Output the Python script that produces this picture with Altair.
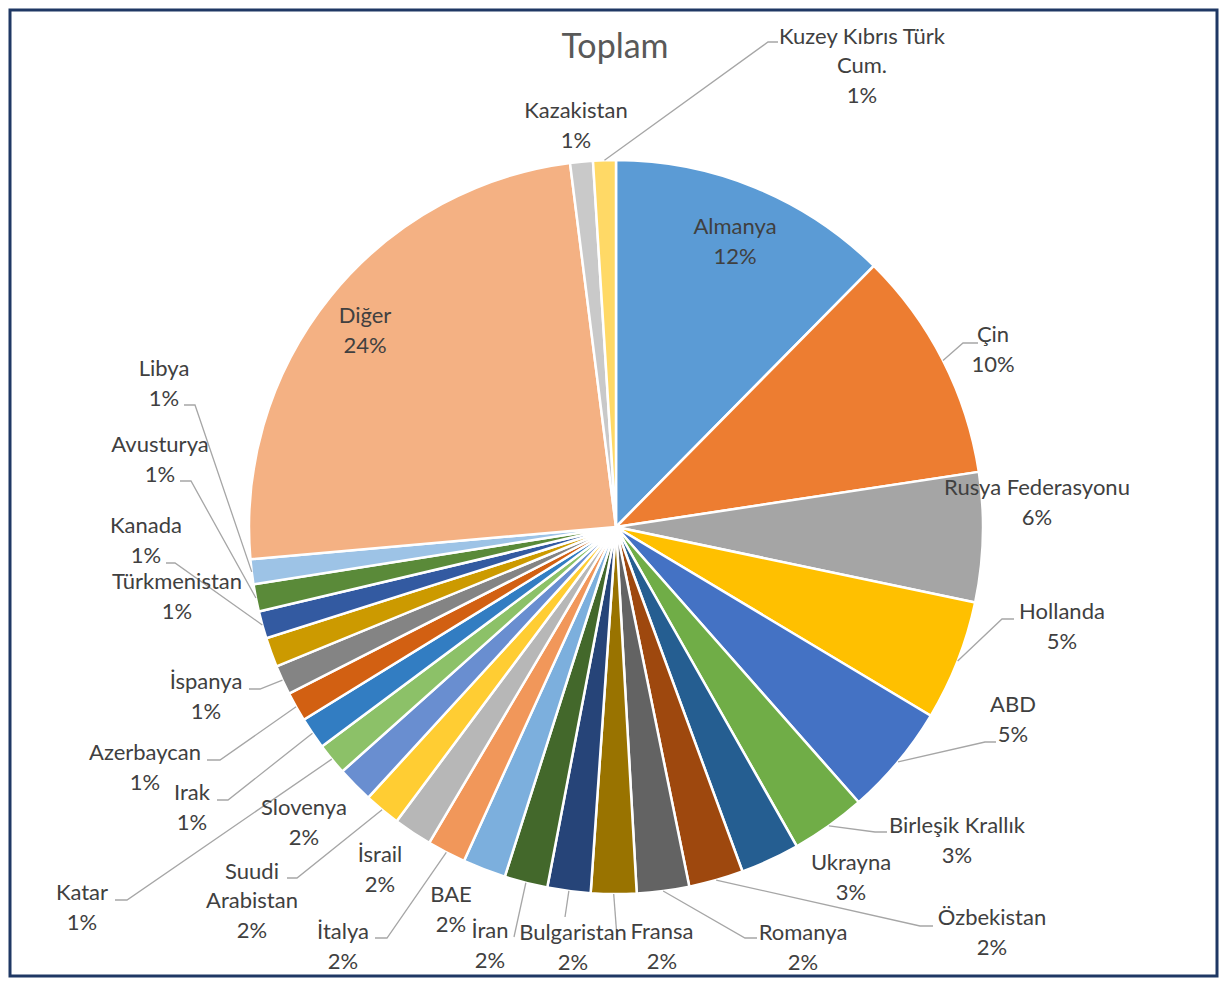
import math
import altair as alt
import pandas as pd

# ---------------- data ----------------
categories = ["Almanya", "Çin", "Rusya Federasyonu", "Hollanda", "ABD", "Birleşik Krallık",
              "Ukrayna", "Özbekistan", "Romanya", "Fransa", "Bulgaristan", "İran", "BAE",
              "İtalya", "İsrail", "Suudi Arabistan", "Slovenya", "Katar", "Irak", "Azerbaycan",
              "İspanya", "Türkmenistan", "Kanada", "Avusturya", "Libya", "Diğer", "Kazakistan",
              "Kuzey Kıbrıs Türk Cum."]
shares = [12.4, 10.2, 5.7, 5.3, 4.9, 3.3, 2.6, 2.4, 2.3, 2.0, 1.9, 1.9, 1.9, 1.7, 1.7, 1.6,
          1.6, 1.4, 1.4, 1.3, 1.3, 1.3, 1.2, 1.2, 1.1, 24.4, 1.0, 1.0]
display_names = ["Almanya", "Çin", "Rusya Federasyonu", "Hollanda", "ABD", "Birleşik Krallık",
                 "Ukrayna", "Özbekistan", "Romanya", "Fransa", "Bulgaristan", "İran", "BAE",
                 "İtalya", "İsrail", "Suudi\nArabistan", "Slovenya", "Katar", "Irak", "Azerbaycan",
                 "İspanya", "Türkmenistan", "Kanada", "Avusturya", "Libya", "Diğer", "Kazakistan",
                 "Kuzey Kıbrıs Türk\nCum."]
title_text = "Toplam"

# ---------------- styles ----------------
colors = ["#5B9BD5", "#ED7D31", "#A5A5A5", "#FFC000", "#4472C4", "#70AD47",
          "#255E91", "#9E480E", "#636363", "#997300", "#264478", "#43682B", "#7CAFDD",
          "#F1975A", "#B7B7B7", "#FFCD33", "#698ED0", "#8CC168", "#327DC2", "#D26012",
          "#848484", "#CC9A00", "#335AA1", "#5A8A39", "#9DC3E6", "#F4B183", "#C9C9C9",
          "#FFD966"]
FONT = "Lato"
FONT_SIZE = 22
LINE_H = 29.5
TEXT_COLOR = "#404040"
CX, CY, R = 606, 517, 367   # pie centre / radius in plot pixels

# label anchor positions (plot pixels, centre of label block)
label_pos = {
    "Almanya": (725, 232), "Çin": (983, 340), "Rusya Federasyonu": (1027, 493),
    "Hollanda": (1052, 617), "ABD": (1003, 710), "Birleşik Krallık": (947, 831),
    "Ukrayna": (841, 868), "Özbekistan": (982, 923), "Romanya": (793, 938),
    "Fransa": (652, 937), "Bulgaristan": (563, 938), "İran": (480, 936), "BAE": (441, 900),
    "İtalya": (333, 937), "İsrail": (370, 860), "Suudi Arabistan": (242, 891),
    "Slovenya": (294, 813), "Katar": (72, 898), "Irak": (182, 798), "Azerbaycan": (135, 758),
    "İspanya": (196, 687), "Türkmenistan": (167, 587), "Kanada": (136, 531),
    "Avusturya": (150, 450), "Libya": (154, 374), "Diğer": (355, 321),
    "Kazakistan": (566, 116), "Kuzey Kıbrıs Türk Cum.": (852, 56),
}
# leader lines: (elbow, end) in plot pixels; start is on the slice edge
leader_pts = {
    "Çin": ((953, 333), (968, 333)),
    "Hollanda": ((992, 609), (1004, 609)),
    "ABD": ((975, 732), (986, 732)),
    "Birleşik Krallık": ((865, 822), (877, 822)),
    "Özbekistan": ((910, 916), (923, 916)),
    "Romanya": ((735, 928), (747, 928)),
    "Fransa": ((607, 927), (607, 927)),
    "Bulgaristan": ((555, 907), (555, 907)),
    "İran": ((504, 927), (504, 927)),
    "İtalya": ((377, 928), (365, 928)),
    "Suudi Arabistan": ((287, 868), (277, 868)),
    "Katar": ((117, 890), (105, 890)),
    "Irak": ((218, 790), (207, 790)),
    "Azerbaycan": ((210, 750), (197, 750)),
    "İspanya": ((250, 679), (239, 679)),
    "Kanada": ((165, 553), (156, 553)),
    "Avusturya": ((181, 471), (170, 471)),
    "Libya": ((185, 395), (174, 395)),
    "Kuzey Kıbrıs Türk Cum.": ((758, 32), (768, 32)),
}

# ---------------- tables ----------------
total = sum(shares)
pie_df = pd.DataFrame({"category": categories, "share": shares, "idx": range(len(categories))})

labels = []
for name, disp, s in zip(categories, display_names, shares):
    lx, ly = label_pos[name]
    text = f"{disp}\n{round(s / total * 100)}%"
    n = text.count("\n") + 1
    labels.append({"category": name, "lx": lx, "ly": ly - (n - 1) * LINE_H / 2,
                   "label": text})
label_df = pd.DataFrame(labels)

rows = []
cum = 0.0
for name, s in zip(categories, shares):
    mid = (cum + s / 2) / total * 2 * math.pi
    cum += s
    if name in leader_pts:
        sx = CX + R * math.sin(mid)
        sy = CY - R * math.cos(mid)
        (ex, ey), (fx, fy) = leader_pts[name]
        for k, (px, py) in enumerate([(sx, sy), (ex, ey), (fx, fy)]):
            rows.append({"category": name, "k": k, "x": px, "y": py})
leader_df = pd.DataFrame(rows)

title_df = pd.DataFrame({"t": [title_text], "x": [605], "y": [38]})

# ---------------- chart ----------------
pie = alt.Chart(pie_df).mark_arc(outerRadius=R, stroke="white", strokeWidth=2.5).encode(
    theta=alt.Theta("share:Q", stack=True),
    color=alt.Color("category:N", scale=alt.Scale(domain=categories, range=colors), legend=None),
    order=alt.Order("idx:Q"),
    x=alt.value(CX),
    y=alt.value(CY),
)

leaders = alt.Chart(leader_df).mark_line(color="#A6A6A6", strokeWidth=1.3).encode(
    x=alt.X("x:Q", scale=None, axis=None),
    y=alt.Y("y:Q", scale=None, axis=None),
    detail="category:N",
    order="k:Q",
)

texts = alt.Chart(label_df).mark_text(
    font=FONT, fontSize=FONT_SIZE, color=TEXT_COLOR, lineBreak="\n", lineHeight=LINE_H,
    align="center", baseline="middle",
).encode(
    x=alt.X("lx:Q", scale=None, axis=None),
    y=alt.Y("ly:Q", scale=None, axis=None),
    text="label:N",
)

title = alt.Chart(title_df).mark_text(
    font=FONT, fontSize=34, color="#595959", align="center", baseline="middle"
).encode(
    x=alt.X("x:Q", scale=None, axis=None),
    y=alt.Y("y:Q", scale=None, axis=None),
    text="t:N",
)

chart = alt.layer(pie, leaders, texts, title).properties(
    width=1207, height=966, padding=2, autosize="none", background="white"
).configure_view(stroke="#1F3864", strokeWidth=3)

chart.save("out.html", embed_options={"renderer": "svg", "actions": False})
